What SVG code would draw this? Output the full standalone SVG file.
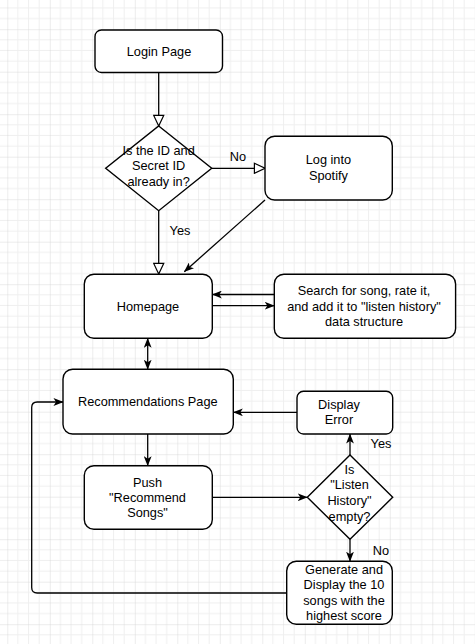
<svg xmlns="http://www.w3.org/2000/svg" width="475" height="644" viewBox="0 0 475 644">
<style>
.box{fill:#fff;stroke:#000;stroke-width:1.4}
.t{font-family:"Liberation Sans",Arial,sans-serif;font-size:12.75px;fill:#000;text-anchor:middle}
.c{fill:none;stroke:#000;stroke-width:1.3}
.arr{marker-end:url(#classic)}
.hol{marker-end:url(#hollow)}
</style>
<defs>
<pattern id="grid" x="7.3" y="29.2" width="42.5" height="42.5" patternUnits="userSpaceOnUse">
<path d="M10.625 0V42.5M21.25 0V42.5M31.875 0V42.5M0 10.625H42.5M0 21.25H42.5M0 31.875H42.5" stroke="#efefef" stroke-width="1" fill="none"/>
<path d="M0 0V42.5M0 0H42.5" stroke="#d9d9d9" stroke-width="1" fill="none"/>
</pattern>
<marker id="classic" markerUnits="userSpaceOnUse" markerWidth="10" markerHeight="8" viewBox="0 0 9 7" refX="8.6" refY="3.5" orient="auto-start-reverse">
<path d="M0 0L9 3.5L0 7L2.3 3.5Z" fill="#000"/>
</marker>
<marker id="hollow" markerUnits="userSpaceOnUse" markerWidth="13" markerHeight="12" viewBox="-1 -1 13 12" refX="10.6" refY="5" orient="auto">
<path d="M0 0L10.6 5L0 10Z" fill="#fff" stroke="#000" stroke-width="1.2"/>
</marker>
</defs>
<rect width="475" height="644" fill="#fff"/>
<rect width="475" height="644" fill="url(#grid)"/>

<g id="connectors">
<path class="c hol" d="M158.7 72.3V126"/>
<path class="c hol" d="M211.7 168.3H265"/>
<path class="c hol" d="M158.7 210.7V274"/>
<path class="c arr" d="M265 200L184.3 271.7"/>
<path class="c arr" d="M274.3 294.5H212.3"/>
<path class="c arr" d="M212.3 305.7H274.3"/>
<path class="c" d="M147.7 338.3V369.3" marker-start="url(#classic)" marker-end="url(#classic)"/>
<path class="c arr" d="M297 412.3H233.3"/>
<path class="c arr" d="M147.7 434V465.7"/>
<path class="c arr" d="M212.3 497.3H307.3"/>
<path class="c arr" d="M350 455V434"/>
<path class="c arr" d="M350 539.3V561.3"/>
<path class="c arr" d="M286.7 593H37.2Q31.7 593 31.7 587.5V407.5Q31.7 402 37.2 402H63"/>
<text class="t" x="238" y="161">No</text>
<text class="t" x="180" y="235">Yes</text>
<text class="t" x="381" y="447.8">Yes</text>
<text class="t" x="381" y="555">No</text>
</g>

<g id="login">
<rect class="box" x="95" y="30" width="127.5" height="42.5" rx="6.4"/>
<text class="t" x="159" y="56">Login Page</text>
</g>
<g id="check-id">
<path class="box" d="M158.7 126L211.7 168.3L158.7 210.7L105.7 168.3Z"/>
<text class="t" x="158.6" y="154.5">Is the ID and</text>
<text class="t" x="158.6" y="170">Secret ID</text>
<text class="t" x="158.6" y="186">already in?</text>
</g>
<g id="spotify">
<rect class="box" x="265" y="136.3" width="127.3" height="63.7" rx="9.6"/>
<text class="t" x="328.4" y="163.8">Log into</text>
<text class="t" x="328.4" y="179.5">Spotify</text>
</g>
<g id="homepage">
<rect class="box" x="84.3" y="274.3" width="128" height="64" rx="9.6"/>
<text class="t" x="148" y="310.5">Homepage</text>
</g>
<g id="search">
<rect class="box" x="274.3" y="274.3" width="181.3" height="64" rx="9.6"/>
<text class="t" x="364" y="295.2">Search for song, rate it,</text>
<text class="t" x="364" y="310.5">and add it to "listen history"</text>
<text class="t" x="364" y="326">data structure</text>
</g>
<g id="recommendations">
<rect class="box" x="63" y="369.3" width="170.3" height="64.7" rx="9.6"/>
<text class="t" x="147.8" y="406">Recommendations Page</text>
</g>
<g id="display-error">
<rect class="box" x="297" y="391.3" width="95.7" height="42.7" rx="6.4"/>
<text class="t" x="339" y="409">Display</text>
<text class="t" x="339" y="424">Error</text>
</g>
<g id="push">
<rect class="box" x="84.3" y="465.7" width="128" height="63.6" rx="9.6"/>
<text class="t" x="147.5" y="486.8">Push</text>
<text class="t" x="147.5" y="502">"Recommend</text>
<text class="t" x="147.5" y="516.5">Songs"</text>
</g>
<g id="check-history">
<path class="box" d="M350 455L392.7 497.3L350 539.3L307.3 497.3Z"/>
<text class="t" x="349.5" y="474.2">Is</text>
<text class="t" x="349.5" y="489.2">"Listen</text>
<text class="t" x="349.5" y="504.5">History"</text>
<text class="t" x="349.5" y="520.5">empty?</text>
</g>
<g id="generate">
<rect class="box" x="286.7" y="561.3" width="105.6" height="63" rx="9.6"/>
<text class="t" x="344" y="573.8">Generate and</text>
<text class="t" x="344" y="589.2">Display the 10</text>
<text class="t" x="344" y="605.2">songs with the</text>
<text class="t" x="344" y="620.2">highest score</text>
</g>
</svg>
